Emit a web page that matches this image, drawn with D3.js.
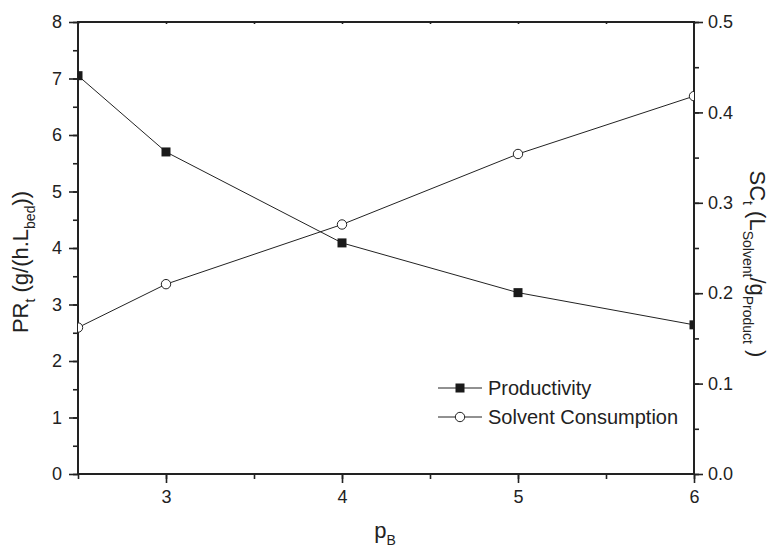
<!DOCTYPE html>
<html>
<head>
<meta charset="utf-8">
<script src="https://cdn.jsdelivr.net/npm/d3@7"></script>
<style>
body { margin: 0; background: #fff; }
text { font-family: "Liberation Sans", Arial, sans-serif; fill: #222; }
</style>
</head>
<body>
<div id="chart"></div>
<script>
var width = 770;
var height = 549;

var pB = [2.5, 3, 4, 5, 6];
var productivity = [7.05, 5.70, 4.09, 3.21, 2.64];
var solventConsumption = [0.162, 0.210, 0.276, 0.354, 0.418];
var xTicks = [3, 4, 5, 6];
var leftTicks = [0, 1, 2, 3, 4, 5, 6, 7, 8];
var rightTicks = [0, 0.1, 0.2, 0.3, 0.4, 0.5];

var mLeft = 78, mRight = 694, mTop = 22, mBottom = 474;

var svg = d3.select("#chart").append("svg")
    .attr("width", width)
    .attr("height", height);

var x = d3.scaleLinear().domain([2.5, 6]).range([mLeft, mRight]);
var yL = d3.scaleLinear().domain([0, 8]).range([mBottom, mTop]);
var yR = d3.scaleLinear().domain([0, 0.5]).range([mBottom, mTop]);

svg.append("clipPath").attr("id", "clip")
  .append("rect")
    .attr("x", mLeft).attr("y", mTop)
    .attr("width", mRight - mLeft).attr("height", mBottom - mTop);

var minorX = d3.range(2.5, 6.01, 0.5);
var minorL = d3.range(0, 8.01, 0.5);
var minorR = d3.range(0, 0.501, 0.05);

function styleAxis(g) {
    g.select(".domain").remove();
    g.selectAll("line").attr("stroke", "#222").attr("stroke-width", 1.6);
    g.selectAll("text").attr("font-size", 18).attr("fill", "#222")
        .style("font-family", "'Liberation Sans', Arial, sans-serif");
}

// bottom axis
svg.append("g").attr("transform", "translate(0," + mBottom + ")")
    .call(d3.axisBottom(x).tickValues(minorX).tickSize(5).tickFormat(""))
    .call(styleAxis);
svg.append("g").attr("transform", "translate(0," + mBottom + ")")
    .call(d3.axisBottom(x).tickValues(xTicks).tickSize(9).tickPadding(7).tickFormat(d3.format("d")))
    .call(styleAxis);

// top axis (small inward ticks)
svg.append("g").attr("transform", "translate(0," + mTop + ")")
    .call(d3.axisBottom(x).tickValues(minorX).tickSize(2).tickFormat(""))
    .call(styleAxis);

// left axis
svg.append("g").attr("transform", "translate(" + mLeft + ",0)")
    .call(d3.axisLeft(yL).tickValues(minorL).tickSize(5).tickFormat(""))
    .call(styleAxis);
svg.append("g").attr("transform", "translate(" + mLeft + ",0)")
    .call(d3.axisLeft(yL).tickValues(leftTicks).tickSize(9).tickPadding(7).tickFormat(d3.format("d")))
    .call(styleAxis);

// right axis
svg.append("g").attr("transform", "translate(" + mRight + ",0)")
    .call(d3.axisRight(yR).tickValues(minorR).tickSize(5).tickFormat(""))
    .call(styleAxis);
svg.append("g").attr("transform", "translate(" + mRight + ",0)")
    .call(d3.axisRight(yR).tickValues(rightTicks).tickSize(9).tickPadding(5).tickFormat(d3.format(".1f")))
    .call(styleAxis);

// frame
svg.append("rect")
    .attr("x", mLeft).attr("y", mTop)
    .attr("width", mRight - mLeft).attr("height", mBottom - mTop)
    .attr("fill", "none").attr("stroke", "#222").attr("stroke-width", 2);

var plot = svg.append("g").attr("clip-path", "url(#clip)");

var prData = pB.map(function(d, i){ return [d, productivity[i]]; });
var scData = pB.map(function(d, i){ return [d, solventConsumption[i]]; });

plot.append("path")
    .datum(prData)
    .attr("fill", "none").attr("stroke", "#222").attr("stroke-width", 1)
    .attr("d", d3.line().x(function(d){ return x(d[0]); }).y(function(d){ return yL(d[1]); }));

plot.append("path")
    .datum(scData)
    .attr("fill", "none").attr("stroke", "#222").attr("stroke-width", 1)
    .attr("d", d3.line().x(function(d){ return x(d[0]); }).y(function(d){ return yR(d[1]); }));

plot.selectAll("rect.pr")
    .data(prData)
    .enter()
    .append("rect")
        .attr("class", "pr")
        .attr("x", function(d){ return x(d[0]) - 4.5; })
        .attr("y", function(d){ return yL(d[1]) - 4.5; })
        .attr("width", 9).attr("height", 9)
        .attr("fill", "#1a1a1a");

plot.selectAll("circle.sc")
    .data(scData)
    .enter()
    .append("circle")
        .attr("class", "sc")
        .attr("cx", function(d){ return x(d[0]); })
        .attr("cy", function(d){ return yR(d[1]); })
        .attr("r", 4.7)
        .attr("fill", "#fff").attr("stroke", "#222").attr("stroke-width", 1);

// legend
var legend = svg.append("g");
legend.append("line").attr("x1", 438).attr("x2", 482).attr("y1", 388).attr("y2", 388)
    .attr("stroke", "#222").attr("stroke-width", 1);
legend.append("rect").attr("x", 455.5).attr("y", 383.5).attr("width", 9).attr("height", 9)
    .attr("fill", "#1a1a1a");
legend.append("text").attr("x", 488).attr("y", 395).attr("font-size", 20).text("Productivity");
legend.append("line").attr("x1", 438).attr("x2", 482).attr("y1", 417).attr("y2", 417)
    .attr("stroke", "#222").attr("stroke-width", 1);
legend.append("circle").attr("cx", 460).attr("cy", 417).attr("r", 4.7)
    .attr("fill", "#fff").attr("stroke", "#222").attr("stroke-width", 1);
legend.append("text").attr("x", 488).attr("y", 424).attr("font-size", 20).text("Solvent Consumption");

// axis titles
var xt = svg.append("text").attr("x", 385).attr("y", 538).attr("text-anchor", "middle").attr("font-size", 22);
xt.append("tspan").text("p");
xt.append("tspan").attr("font-size", 14).attr("dy", 7).text("B");

var lt = svg.append("text")
    .attr("transform", "translate(28,262) rotate(-90)")
    .attr("text-anchor", "middle").attr("font-size", 22);
lt.append("tspan").text("PR");
lt.append("tspan").attr("font-size", 14).attr("dy", 7).text("t");
lt.append("tspan").attr("dy", -7).text(" (g/(h.L");
lt.append("tspan").attr("font-size", 14).attr("dy", 7).text("bed");
lt.append("tspan").attr("dy", -7).text("))");

var rt = svg.append("text")
    .attr("transform", "translate(750,264) rotate(90)")
    .attr("text-anchor", "middle").attr("font-size", 22);
rt.append("tspan").text("SC");
rt.append("tspan").attr("font-size", 14).attr("dy", 7).text("t");
rt.append("tspan").attr("dy", -7).text(" (L");
rt.append("tspan").attr("font-size", 14).attr("dy", 7).text("Solvent");
rt.append("tspan").attr("dy", -7).text("/g");
rt.append("tspan").attr("font-size", 14).attr("dy", 7).text("Product");
rt.append("tspan").attr("dy", -7).text(" )");
</script>
</body>
</html>
